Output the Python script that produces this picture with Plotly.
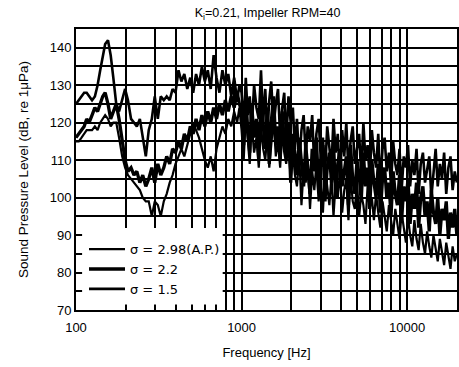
import plotly.graph_objects as go

# ---------------- data ----------------
FREQ_LOW = [100, 104, 108, 112, 116, 120, 125, 130, 135, 140, 145, 150, 156, 162, 168, 175, 182, 190, 198, 206,
            215, 224, 233, 243, 253, 264, 275, 287, 299, 312, 325, 339, 353, 368, 383, 399, 416, 433, 451, 470,
            490, 510, 531, 553, 576, 600, 625, 651, 678, 706, 735, 766, 798, 831, 866, 902, 940, 970]
FREQ_HIGH = [1000, 1030, 1060, 1090, 1120, 1150, 1190, 1230, 1270, 1310, 1350, 1390, 1430, 1470, 1510, 1560,
             1610, 1660, 1710, 1760, 1810, 1860, 1920, 1980, 2040, 2100, 2160, 2230, 2300, 2370, 2440, 2510,
             2590, 2670, 2750, 2830, 2920, 3010, 3100, 3190, 3290, 3390, 3490, 3590, 3700, 3810, 3930, 4050,
             4170, 4290, 4420, 4550, 4690, 4830, 4980, 5130, 5280, 5440, 5600, 5770, 5940, 6120, 6300, 6490,
             6690, 6890, 7100, 7310, 7530, 7760, 7990, 8230, 8480, 8730, 8990, 9260, 9540, 9830, 10120, 10420,
             10740, 11060, 11390, 11730, 12080, 12450, 12820, 13200, 13600, 14000, 14420, 14860, 15300, 15760,
             16230, 16720, 17220, 17740, 18270, 18820, 19380, 19960]

# sigma = 2.98 (A.P.)
SPL_298_LOW = [115, 115, 116, 117, 118, 118, 118, 119, 118, 120, 121, 122, 121, 119, 120, 120, 116, 111, 108, 106,
               105, 104, 103, 102, 100, 99, 99, 95, 99, 98, 95, 99, 101, 104, 106, 109, 111, 113, 111, 114,
               117, 120, 118, 116, 113, 110, 108, 111, 107, 113, 116, 119, 117, 121, 119, 123, 120, 124]
SPL_298_HIGH = [118, 110, 122, 114, 109, 120, 112, 116, 108, 119, 113, 110, 117, 108, 114, 121,
                111, 115, 108, 118, 112, 109, 114, 105, 112, 106, 103, 111, 98, 108, 104, 110,
                97, 107, 102, 109, 99, 105, 96, 108, 103, 98, 106, 95, 104, 100, 107, 96,
                102, 105, 94, 106, 99, 97, 104, 95, 101, 98, 93, 103, 97, 100, 94, 101,
                96, 92, 99, 95, 91, 98, 94, 90, 97, 93, 89, 96, 92, 88, 95, 90,
                87, 94, 89, 86, 93, 88, 85, 91, 87, 84, 90, 86, 83, 89, 85, 82,
                88, 84, 81, 87, 83, 85]

# sigma = 2.2
SPL_22_LOW = [116, 117, 118, 119, 121, 120, 122, 124, 123, 125, 127, 128, 125, 121, 123, 125, 121, 115, 110, 107,
              108, 106, 107, 104, 106, 103, 105, 108, 104, 109, 106, 108, 111, 109, 113, 112, 115, 113, 117, 115,
              119, 117, 121, 118, 122, 119, 123, 120, 124, 121, 125, 122, 126, 123, 127, 124, 128, 125]
SPL_22_HIGH = [123, 114, 127, 118, 112, 125, 116, 121, 110, 126, 119, 113, 124, 109, 120, 127,
               114, 119, 110, 123, 115, 111, 120, 104, 117, 112, 106, 116, 110, 103, 114, 108,
               101, 113, 107, 116, 102, 110, 114, 99, 108, 112, 104, 115, 100, 109, 113, 103,
               107, 111, 98, 114, 105, 101, 110, 106, 99, 112, 103, 108, 97, 110, 104, 100,
               109, 96, 105, 108, 100, 104, 95, 107, 101, 98, 106, 94, 103, 99, 105, 93,
               101, 97, 104, 92, 100, 103, 95, 99, 91, 102, 96, 93, 100, 90, 97, 94,
               99, 89, 96, 92, 97, 90]

# sigma = 1.5
SPL_15_LOW = [125, 126, 127, 128, 128, 127, 126, 127, 130, 134, 138, 141, 142, 138, 132, 125, 123, 126, 129, 126,
              121, 120, 119, 121, 116, 111, 118, 121, 127, 121, 127, 126, 127, 126, 129, 128, 134, 131, 133, 129,
              132, 128, 133, 130, 135, 131, 134, 129, 138, 132, 128, 134, 130, 133, 127, 132, 126, 130]
SPL_15_HIGH = [128, 119, 132, 122, 127, 118, 130, 124, 121, 134, 120, 129, 117, 126, 131, 119,
               125, 129, 116, 124, 128, 115, 127, 120, 124, 113, 121, 109, 118, 122, 111, 119,
               115, 122, 108, 117, 121, 110, 116, 106, 119, 113, 108, 121, 112, 117, 105, 118,
               111, 120, 107, 115, 119, 109, 113, 117, 106, 120, 110, 114, 105, 118, 112, 108,
               117, 104, 113, 116, 107, 112, 103, 115, 109, 106, 113, 102, 111, 108, 114, 103,
               110, 106, 113, 101, 109, 112, 104, 108, 111, 100, 107, 113, 103, 109, 105, 112,
               101, 108, 111, 102, 107, 104]

SERIES_NAMES = ["\u03c3 = 2.98(A.P.)", "\u03c3 = 2.2", "\u03c3 = 1.5"]
X_TICK_VALS = [100, 1000, 10000]
X_GRID_VALS = [200, 300, 400, 500, 600, 700, 800, 900, 2000, 3000, 4000, 5000, 6000, 7000, 8000, 9000]
Y_TICK_VALS = [70, 80, 90, 100, 110, 120, 130, 140]

# ---------------- figure ----------------
freq = FREQ_LOW + FREQ_HIGH
series = [SPL_298_LOW + SPL_298_HIGH, SPL_22_LOW + SPL_22_HIGH, SPL_15_LOW + SPL_15_HIGH]
widths = [2.2, 3.3, 2.6]

fig = go.Figure()
for name, vals, w in zip(SERIES_NAMES, series, widths):
    fig.add_trace(go.Scatter(x=freq, y=vals, mode="lines", name=name,
                             line=dict(color="black", width=w)))

FONT = "Liberation Sans, Arial, sans-serif"

fig.update_layout(
    width=459, height=367,
    margin=dict(l=76, r=0, t=29, b=57),
    paper_bgcolor="white", plot_bgcolor="white",
    font=dict(family=FONT, size=12, color="black"),
    title=dict(text="K<sub>i</sub>=0.21, Impeller RPM=40", x=0.583, xanchor="center",
               y=0.965, yanchor="middle", font=dict(size=12.5)),
    showlegend=True,
    legend=dict(x=0.021, y=0.27, xanchor="left", yanchor="top", bgcolor="rgba(0,0,0,0)",
                font=dict(size=13, family="DejaVu Sans, sans-serif"), borderwidth=0,
                tracegroupgap=0, itemwidth=36),
    shapes=[dict(type="rect", xref="paper", yref="paper", x0=0.016, x1=0.385, y0=0.02, y1=0.292,
                 fillcolor="white", line=dict(width=0), layer="above")],
)

fig.update_xaxes(type="log", range=[2, 4.30103], tickmode="array", tickvals=X_TICK_VALS,
                 ticktext=[str(v) for v in X_TICK_VALS],
                 minor=dict(tickmode="array", tickvals=X_GRID_VALS, showgrid=True, gridcolor="black",
                            gridwidth=2, ticks=""),
                 showgrid=True, gridcolor="black", gridwidth=2, showline=True, linecolor="black",
                 linewidth=2, mirror=True, ticks="", tickfont=dict(size=13), ticklabelstandoff=4,
                 title=dict(text="Frequency [Hz]", font=dict(size=13), standoff=14), zeroline=False)
fig.update_yaxes(range=[70, 145], tickmode="array", tickvals=Y_TICK_VALS, showgrid=True, gridcolor="black",
                 gridwidth=2, minor=dict(dtick=5, tick0=70, showgrid=True, gridcolor="black", gridwidth=2),
                 showline=True, linecolor="black", linewidth=2, mirror=True, ticks="",
                 tickfont=dict(size=13),
                 title=dict(text="Sound Pressure Level (dB, re 1\u03bcPa)", font=dict(size=13.5), standoff=18),
                 zeroline=False)

fig.write_html("out.html")
